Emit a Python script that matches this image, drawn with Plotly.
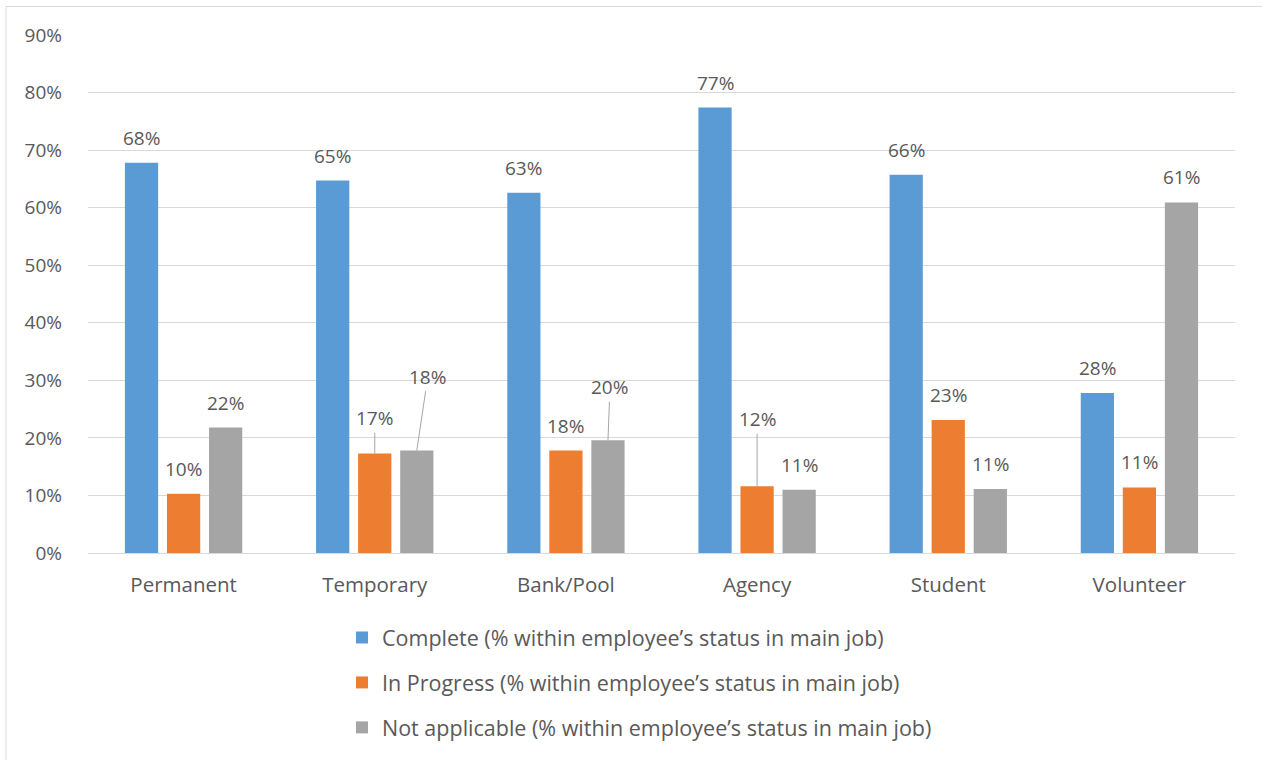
import plotly.graph_objects as go

# Employee status in main job
categories = ["Permanent", "Temporary", "Bank/Pool", "Agency", "Student", "Volunteer"]

# Percentage within employee's status in main job
complete = [67.8, 64.7, 62.6, 77.4, 65.7, 27.8]
in_progress = [10.3, 17.3, 17.8, 11.6, 23.1, 11.4]
not_applicable = [21.8, 17.8, 19.6, 11.0, 11.1, 60.9]

series_names = [
    "Complete (% within employee’s status in main job)",
    "In Progress (% within employee’s status in main job)",
    "Not applicable (% within employee’s status in main job)",
]
series_values = [complete, in_progress, not_applicable]
series_colors = ["#5B9BD5", "#ED7D31", "#A5A5A5"]

y_ticks = [0, 10, 20, 30, 40, 50, 60, 70, 80, 90]
y_tick_text = [f"{t}%" for t in y_ticks]

# Labels pulled away from their bar and tied back with a leader line:
# (series index, category index) -> (dx, dy) in pixels
leader_labels = {
    (1, 1): (0, -35),
    (2, 1): (11, -74),
    (2, 2): (2, -53),
    (1, 3): (0, -67),
}

TEXT = "#595959"
GRID = "#D9D9D9"
FONT = "'Open Sans', sans-serif"
FS = 19          # tick and value labels
FS_CAT = 20.5    # category labels
FS_LEG = 21.5    # legend
BARGAP = 0.34
GROUPGAP = 0.21

# plot area in pixels
L, R, T, B = 88, 27, 35, 207
W, H = 1262, 760
PW, PH = W - L - R, H - T - B

x_idx = list(range(len(categories)))
fig = go.Figure()
for name, vals, col in zip(series_names, series_values, series_colors):
    fig.add_trace(go.Bar(
        x=x_idx, y=vals, name=name, legendgroup=name,
        marker=dict(color=col, line=dict(width=0)),
        hoverinfo="skip",
    ))

# value labels above each bar
slot = (1 - BARGAP) / len(series_values)
annotations = []
for s, vals in enumerate(series_values):
    offset = (s - (len(series_values) - 1) / 2) * slot
    for c, v in enumerate(vals):
        base = dict(x=c + offset, y=v, xref="x", yref="y",
                    text=f"{v:.0f}%", font=dict(family=FONT, size=FS, color=TEXT))
        if (s, c) in leader_labels:
            dx, dy = leader_labels[(s, c)]
            base.update(showarrow=True, ax=dx, ay=dy, arrowhead=0,
                        arrowwidth=1, arrowcolor="#A6A6A6", standoff=0)
        else:
            base.update(showarrow=False, yshift=25)
        annotations.append(base)

fig.update_layout(
    width=W, height=H,
    margin=dict(l=L, r=R, t=T, b=B, autoexpand=False),
    paper_bgcolor="white", plot_bgcolor="white",
    barmode="group", bargap=BARGAP, bargroupgap=GROUPGAP,
    font=dict(family=FONT, size=FS, color=TEXT),
    showlegend=True,
    legend=dict(
        orientation="v", xref="paper", yref="paper",
        x=(342 - L) / PW, xanchor="left", y=-(617 - (H - B)) / PH, yanchor="top",
        tracegroupgap=14, font=dict(family=FONT, size=FS_LEG, color=TEXT),
        bgcolor="rgba(0,0,0,0)", itemwidth=30,
    ),
    annotations=annotations,
    shapes=[dict(type="rect", xref="paper", yref="paper",
                 x0=(6 - L) / PW, x1=(1300 - L) / PW,
                 y0=-(800 - (H - B)) / PH, y1=((H - B) - 6.5) / PH,
                 line=dict(color=GRID, width=1), fillcolor="rgba(0,0,0,0)",
                 layer="below")],
)
fig.update_xaxes(
    tickvals=x_idx, ticktext=categories, range=[-0.5, len(categories) - 0.5],
    tickangle=0, automargin=False,
    showgrid=False, zeroline=False, showline=True, linecolor=GRID, linewidth=1,
    ticks="", ticklabelstandoff=13, tickfont=dict(family=FONT, size=FS_CAT, color=TEXT),
)
fig.update_yaxes(
    range=[0, 90], tickvals=y_ticks, ticktext=y_tick_text, automargin=False,
    showgrid=True, gridcolor=GRID, gridwidth=1, zeroline=False, showline=False,
    ticks="", ticklabelstandoff=25, tickfont=dict(family=FONT, size=FS, color=TEXT),
)

fig.write_html("out.html")
